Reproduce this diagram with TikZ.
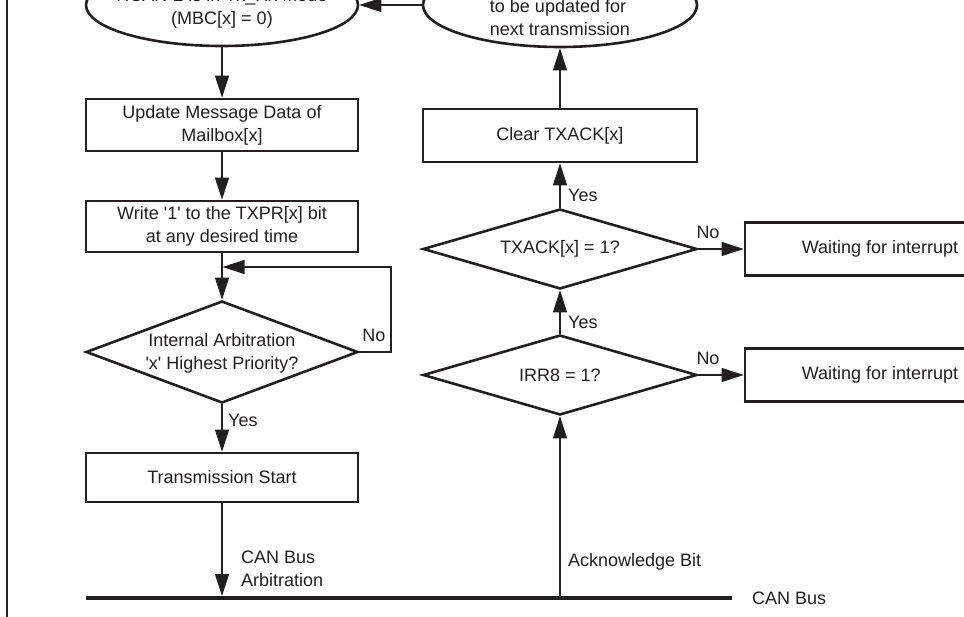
\documentclass[tikz,border=0pt]{standalone}
\usepackage{fontspec}
\setmainfont{Liberation Sans}
\usetikzlibrary{arrows.meta,shapes.geometric}
\definecolor{ink}{HTML}{231F20}
\begin{document}
\begin{tikzpicture}[x=1pt,y=-1pt,
  every node/.style={font=\fontsize{18}{23}\selectfont, text=ink},
  box/.style={draw=ink, line width=2.6pt, inner sep=0pt, align=center},
  term/.style={draw=ink, ellipse, line width=2.6pt, inner sep=0pt},
  decision/.style={draw=ink, diamond, line width=2.6pt, inner sep=0pt},
  flow/.style={draw=ink, line width=1.2pt, -{Triangle[length=22pt,width=14pt]}},
  tag/.style={inner sep=0pt, anchor=west, align=left}
]
\clip (0,0) rectangle (964,617);
\fill[white] (0,0) rectangle (964,617);

% page rule on the left
\coordinate (edgeT) at (7,0);
\coordinate (edgeB) at (7,617);
\draw[ink, line width=2.5pt] (edgeT) -- (edgeB);

% ---- left column: transmission request ----
\node[term, minimum width=272pt, minimum height=82pt] (ell1) at (222,5) {};
\node[align=center] (ell1t) at (222,8) {HCAN-2 is in Tx\_Rx Mode\\(MBC[x] = 0)};

\node[box, minimum width=272pt, minimum height=52pt] (upd) at (222,125)
  {Update Message Data of\\Mailbox[x]};
\node[box, minimum width=272pt, minimum height=51pt] (wr) at (222,226.5)
  {Write \textquotesingle 1\textquotesingle{} to the TXPR[x] bit\\at any desired time};

\node[decision, minimum width=272pt, minimum height=102pt] (arb) at (222,352) {};
\node[align=center] (arbt) at (222,353)
  {Internal Arbitration\\\textquotesingle x\textquotesingle{} Highest Priority?};

\node[box, minimum width=272pt, minimum height=49pt] (ts) at (222,477.5)
  {Transmission Start};

\draw[flow] (ell1.south) -- (upd.north);
\draw[flow] (upd.south) -- (wr.north);
\draw[flow] (wr.south) -- (arb.north);

\coordinate (loop) at (391,267);
\coordinate (join) at (222.5,267);
\draw[flow] (arb.east) -| (loop) -- (join);
\node (no0) at (374,335) {No};

\draw[flow] (arb.south) -- (ts.north);
\node[tag] (yes0) at (228,420) {Yes};

% ---- CAN bus ----
\coordinate (busL) at (86,598);
\coordinate (busR) at (732,598);
\draw[ink, line width=4.5pt] (busL) -- (busR);
\node[tag] (busname) at (752,598) {CAN Bus};

\coordinate (arbtap) at (222,596);
\draw[flow] (ts.south) -- (arbtap);
\node[tag] (arblbl) at (241,569) {CAN Bus\\Arbitration};

% ---- right column: transmission acknowledge ----
\node[decision, minimum width=274pt, minimum height=80pt] (irr) at (560,375) {};
\node (irrt) at (560,375) {IRR8 = 1?};
\node[decision, minimum width=274pt, minimum height=80pt] (txa) at (560,249) {};
\node (txat) at (560,249) {TXACK[x] = 1?};
\node[box, minimum width=274pt, minimum height=53pt] (clr) at (560,135.5)
  {Clear TXACK[x]};
\node[term, minimum width=274pt, minimum height=84pt] (ell2) at (560,5) {};
\node[align=left] (ell2t) at (560,18) {to be updated for\\next transmission};

\coordinate (acktap) at (560,598);
\draw[flow] (acktap) -- (irr.south);
\node[tag] (acklbl) at (568,562) {Acknowledge Bit};

\draw[flow] (irr.north) -- (txa.south);
\node[tag] (yes2) at (568,322) {Yes};
\draw[flow] (txa.north) -- (clr.south);
\node[tag] (yes1) at (568,195) {Yes};
\draw[flow] (clr.north) -- (ell2.south);
\draw[flow] (ell2.west) -- (ell1.east);

% waiting states
\node[box, minimum width=270pt, minimum height=53pt] (w1) at (880,249)
  {Waiting for interrupt};
\node[box, minimum width=270pt, minimum height=53pt] (w2) at (880,375)
  {Waiting for interrupt};
\draw[flow] (txa.east) -- (w1.west);
\node (no1) at (708,232) {No};
\draw[flow] (irr.east) -- (w2.west);
\node (no2) at (708,358) {No};
\end{tikzpicture}
\end{document}
